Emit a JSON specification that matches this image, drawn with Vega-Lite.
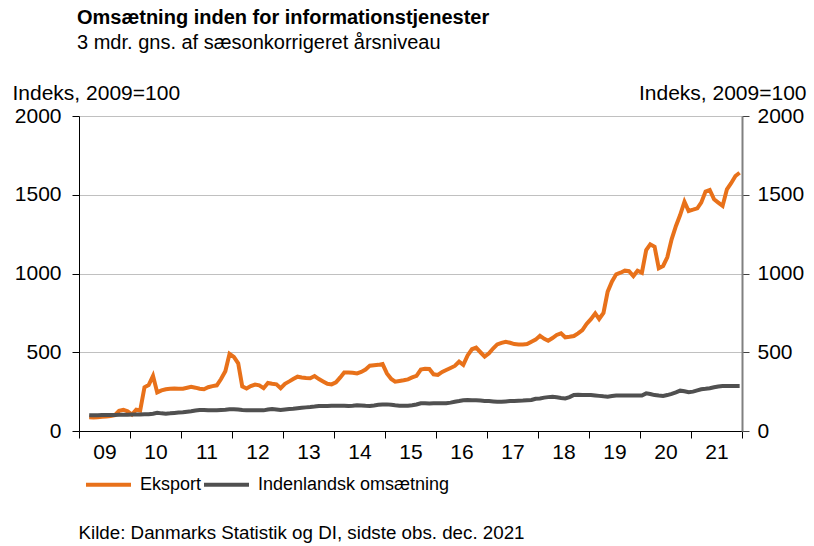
{
  "$schema": "https://vega.github.io/schema/vega-lite/v6.json",
  "width": 663,
  "height": 315,
  "autosize": "none",
  "padding": {"left": 79, "top": 116, "right": 72, "bottom": 115},
  "background": "white",
  "config": {
    "font": "Liberation Sans",
    "view": {"stroke": null},
    "axis": {"labelFont": "Liberation Sans", "titleFont": "Liberation Sans", "labelColor": "black", "titleColor": "black"}
  },
  "title": {
    "text": "Omsætning inden for informationstjenester",
    "subtitle": "3 mdr. gns. af sæsonkorrigeret årsniveau",
    "anchor": "start",
    "frame": "group",
    "font": "Liberation Sans",
    "fontSize": 20,
    "fontWeight": "bold",
    "color": "black",
    "subtitleFont": "Liberation Sans",
    "subtitleFontSize": 20,
    "subtitleColor": "black",
    "subtitlePadding": 5,
    "dx": -2,
    "offset": 29
  },
  "data": {
    "values": [
      {"d":"2009-03-15","Eksport":87,"Indenlandsk omsætning":100},
      {"d":"2009-04-15","Eksport":86,"Indenlandsk omsætning":100},
      {"d":"2009-05-15","Eksport":88,"Indenlandsk omsætning":100},
      {"d":"2009-06-15","Eksport":90,"Indenlandsk omsætning":101},
      {"d":"2009-07-15","Eksport":92,"Indenlandsk omsætning":101},
      {"d":"2009-08-15","Eksport":95,"Indenlandsk omsætning":102},
      {"d":"2009-09-15","Eksport":100,"Indenlandsk omsætning":102},
      {"d":"2009-10-15","Eksport":128,"Indenlandsk omsætning":103},
      {"d":"2009-11-15","Eksport":135,"Indenlandsk omsætning":103},
      {"d":"2009-12-15","Eksport":125,"Indenlandsk omsætning":103},
      {"d":"2010-01-15","Eksport":104,"Indenlandsk omsætning":104},
      {"d":"2010-02-15","Eksport":135,"Indenlandsk omsætning":104},
      {"d":"2010-03-15","Eksport":130,"Indenlandsk omsætning":105},
      {"d":"2010-04-15","Eksport":278,"Indenlandsk omsætning":106},
      {"d":"2010-05-15","Eksport":292,"Indenlandsk omsætning":106},
      {"d":"2010-06-15","Eksport":350,"Indenlandsk omsætning":110},
      {"d":"2010-07-15","Eksport":245,"Indenlandsk omsætning":116},
      {"d":"2010-08-15","Eksport":258,"Indenlandsk omsætning":112},
      {"d":"2010-09-15","Eksport":265,"Indenlandsk omsætning":110},
      {"d":"2010-10-15","Eksport":268,"Indenlandsk omsætning":112},
      {"d":"2010-11-15","Eksport":270,"Indenlandsk omsætning":115},
      {"d":"2010-12-15","Eksport":268,"Indenlandsk omsætning":117},
      {"d":"2011-01-15","Eksport":268,"Indenlandsk omsætning":119},
      {"d":"2011-02-15","Eksport":275,"Indenlandsk omsætning":122},
      {"d":"2011-03-15","Eksport":280,"Indenlandsk omsætning":125},
      {"d":"2011-04-15","Eksport":275,"Indenlandsk omsætning":130},
      {"d":"2011-05-15","Eksport":268,"Indenlandsk omsætning":133},
      {"d":"2011-06-15","Eksport":265,"Indenlandsk omsætning":133},
      {"d":"2011-07-15","Eksport":278,"Indenlandsk omsætning":132},
      {"d":"2011-08-15","Eksport":285,"Indenlandsk omsætning":131},
      {"d":"2011-09-15","Eksport":290,"Indenlandsk omsætning":131},
      {"d":"2011-10-15","Eksport":330,"Indenlandsk omsætning":133},
      {"d":"2011-11-15","Eksport":380,"Indenlandsk omsætning":135},
      {"d":"2011-12-15","Eksport":490,"Indenlandsk omsætning":138},
      {"d":"2012-01-15","Eksport":470,"Indenlandsk omsætning":138},
      {"d":"2012-02-15","Eksport":430,"Indenlandsk omsætning":136},
      {"d":"2012-03-15","Eksport":283,"Indenlandsk omsætning":133},
      {"d":"2012-04-15","Eksport":270,"Indenlandsk omsætning":132},
      {"d":"2012-05-15","Eksport":285,"Indenlandsk omsætning":132},
      {"d":"2012-06-15","Eksport":295,"Indenlandsk omsætning":131},
      {"d":"2012-07-15","Eksport":290,"Indenlandsk omsætning":131},
      {"d":"2012-08-15","Eksport":272,"Indenlandsk omsætning":131},
      {"d":"2012-09-15","Eksport":305,"Indenlandsk omsætning":136},
      {"d":"2012-10-15","Eksport":300,"Indenlandsk omsætning":140},
      {"d":"2012-11-15","Eksport":296,"Indenlandsk omsætning":137},
      {"d":"2012-12-15","Eksport":272,"Indenlandsk omsætning":133},
      {"d":"2013-01-15","Eksport":300,"Indenlandsk omsætning":137},
      {"d":"2013-02-15","Eksport":315,"Indenlandsk omsætning":140},
      {"d":"2013-03-15","Eksport":330,"Indenlandsk omsætning":142},
      {"d":"2013-04-15","Eksport":345,"Indenlandsk omsætning":145},
      {"d":"2013-05-15","Eksport":340,"Indenlandsk omsætning":148},
      {"d":"2013-06-15","Eksport":337,"Indenlandsk omsætning":150},
      {"d":"2013-07-15","Eksport":335,"Indenlandsk omsætning":152},
      {"d":"2013-08-15","Eksport":349,"Indenlandsk omsætning":155},
      {"d":"2013-09-15","Eksport":330,"Indenlandsk omsætning":159},
      {"d":"2013-10-15","Eksport":315,"Indenlandsk omsætning":158},
      {"d":"2013-11-15","Eksport":300,"Indenlandsk omsætning":158},
      {"d":"2013-12-15","Eksport":296,"Indenlandsk omsætning":160},
      {"d":"2014-01-15","Eksport":309,"Indenlandsk omsætning":161},
      {"d":"2014-02-15","Eksport":340,"Indenlandsk omsætning":160},
      {"d":"2014-03-15","Eksport":372,"Indenlandsk omsætning":160},
      {"d":"2014-04-15","Eksport":372,"Indenlandsk omsætning":158},
      {"d":"2014-05-15","Eksport":370,"Indenlandsk omsætning":160},
      {"d":"2014-06-15","Eksport":366,"Indenlandsk omsætning":163},
      {"d":"2014-07-15","Eksport":375,"Indenlandsk omsætning":162},
      {"d":"2014-08-15","Eksport":390,"Indenlandsk omsætning":160},
      {"d":"2014-09-15","Eksport":415,"Indenlandsk omsætning":159},
      {"d":"2014-10-15","Eksport":418,"Indenlandsk omsætning":162},
      {"d":"2014-11-15","Eksport":420,"Indenlandsk omsætning":166},
      {"d":"2014-12-15","Eksport":425,"Indenlandsk omsætning":168},
      {"d":"2015-01-15","Eksport":366,"Indenlandsk omsætning":169},
      {"d":"2015-02-15","Eksport":330,"Indenlandsk omsætning":166},
      {"d":"2015-03-15","Eksport":313,"Indenlandsk omsætning":163},
      {"d":"2015-04-15","Eksport":318,"Indenlandsk omsætning":161},
      {"d":"2015-05-15","Eksport":322,"Indenlandsk omsætning":161},
      {"d":"2015-06-15","Eksport":328,"Indenlandsk omsætning":161},
      {"d":"2015-07-15","Eksport":340,"Indenlandsk omsætning":163},
      {"d":"2015-08-15","Eksport":350,"Indenlandsk omsætning":168},
      {"d":"2015-09-15","Eksport":390,"Indenlandsk omsætning":176},
      {"d":"2015-10-15","Eksport":395,"Indenlandsk omsætning":176},
      {"d":"2015-11-15","Eksport":394,"Indenlandsk omsætning":175},
      {"d":"2015-12-15","Eksport":360,"Indenlandsk omsætning":176},
      {"d":"2016-01-15","Eksport":356,"Indenlandsk omsætning":176},
      {"d":"2016-02-15","Eksport":375,"Indenlandsk omsætning":176},
      {"d":"2016-03-15","Eksport":387,"Indenlandsk omsætning":176},
      {"d":"2016-04-15","Eksport":400,"Indenlandsk omsætning":180},
      {"d":"2016-05-15","Eksport":413,"Indenlandsk omsætning":186},
      {"d":"2016-06-15","Eksport":440,"Indenlandsk omsætning":190},
      {"d":"2016-07-15","Eksport":420,"Indenlandsk omsætning":195},
      {"d":"2016-08-15","Eksport":480,"Indenlandsk omsætning":197},
      {"d":"2016-09-15","Eksport":519,"Indenlandsk omsætning":196},
      {"d":"2016-10-15","Eksport":529,"Indenlandsk omsætning":195},
      {"d":"2016-11-15","Eksport":500,"Indenlandsk omsætning":193},
      {"d":"2016-12-15","Eksport":472,"Indenlandsk omsætning":191},
      {"d":"2017-01-15","Eksport":493,"Indenlandsk omsætning":190},
      {"d":"2017-02-15","Eksport":525,"Indenlandsk omsætning":188},
      {"d":"2017-03-15","Eksport":550,"Indenlandsk omsætning":186},
      {"d":"2017-04-15","Eksport":560,"Indenlandsk omsætning":186},
      {"d":"2017-05-15","Eksport":567,"Indenlandsk omsætning":188},
      {"d":"2017-06-15","Eksport":560,"Indenlandsk omsætning":190},
      {"d":"2017-07-15","Eksport":552,"Indenlandsk omsætning":191},
      {"d":"2017-08-15","Eksport":550,"Indenlandsk omsætning":192},
      {"d":"2017-09-15","Eksport":550,"Indenlandsk omsætning":193},
      {"d":"2017-10-15","Eksport":552,"Indenlandsk omsætning":195},
      {"d":"2017-11-15","Eksport":567,"Indenlandsk omsætning":197},
      {"d":"2017-12-15","Eksport":580,"Indenlandsk omsætning":205},
      {"d":"2018-01-15","Eksport":605,"Indenlandsk omsætning":207},
      {"d":"2018-02-15","Eksport":585,"Indenlandsk omsætning":212},
      {"d":"2018-03-15","Eksport":573,"Indenlandsk omsætning":215},
      {"d":"2018-04-15","Eksport":590,"Indenlandsk omsætning":218},
      {"d":"2018-05-15","Eksport":610,"Indenlandsk omsætning":214},
      {"d":"2018-06-15","Eksport":620,"Indenlandsk omsætning":210},
      {"d":"2018-07-15","Eksport":595,"Indenlandsk omsætning":207},
      {"d":"2018-08-15","Eksport":598,"Indenlandsk omsætning":215},
      {"d":"2018-09-15","Eksport":603,"Indenlandsk omsætning":229},
      {"d":"2018-10-15","Eksport":620,"Indenlandsk omsætning":230},
      {"d":"2018-11-15","Eksport":641,"Indenlandsk omsætning":229},
      {"d":"2018-12-15","Eksport":680,"Indenlandsk omsætning":229},
      {"d":"2019-01-15","Eksport":710,"Indenlandsk omsætning":229},
      {"d":"2019-02-15","Eksport":747,"Indenlandsk omsætning":226},
      {"d":"2019-03-15","Eksport":711,"Indenlandsk omsætning":223},
      {"d":"2019-04-15","Eksport":750,"Indenlandsk omsætning":220},
      {"d":"2019-05-15","Eksport":885,"Indenlandsk omsætning":218},
      {"d":"2019-06-15","Eksport":950,"Indenlandsk omsætning":222},
      {"d":"2019-07-15","Eksport":995,"Indenlandsk omsætning":225},
      {"d":"2019-08-15","Eksport":1005,"Indenlandsk omsætning":225},
      {"d":"2019-09-15","Eksport":1018,"Indenlandsk omsætning":225},
      {"d":"2019-10-15","Eksport":1015,"Indenlandsk omsætning":225},
      {"d":"2019-11-15","Eksport":984,"Indenlandsk omsætning":225},
      {"d":"2019-12-15","Eksport":1018,"Indenlandsk omsætning":225},
      {"d":"2020-01-15","Eksport":1005,"Indenlandsk omsætning":225},
      {"d":"2020-02-15","Eksport":1149,"Indenlandsk omsætning":239},
      {"d":"2020-03-15","Eksport":1185,"Indenlandsk omsætning":235},
      {"d":"2020-04-15","Eksport":1170,"Indenlandsk omsætning":228},
      {"d":"2020-05-15","Eksport":1033,"Indenlandsk omsætning":225},
      {"d":"2020-06-15","Eksport":1048,"Indenlandsk omsætning":223},
      {"d":"2020-07-15","Eksport":1103,"Indenlandsk omsætning":228},
      {"d":"2020-08-15","Eksport":1217,"Indenlandsk omsætning":236},
      {"d":"2020-09-15","Eksport":1302,"Indenlandsk omsætning":245},
      {"d":"2020-10-15","Eksport":1371,"Indenlandsk omsætning":256},
      {"d":"2020-11-15","Eksport":1456,"Indenlandsk omsætning":252},
      {"d":"2020-12-15","Eksport":1397,"Indenlandsk omsætning":246},
      {"d":"2021-01-15","Eksport":1405,"Indenlandsk omsætning":250},
      {"d":"2021-02-15","Eksport":1414,"Indenlandsk omsætning":258},
      {"d":"2021-03-15","Eksport":1450,"Indenlandsk omsætning":265},
      {"d":"2021-04-15","Eksport":1520,"Indenlandsk omsætning":268},
      {"d":"2021-05-15","Eksport":1530,"Indenlandsk omsætning":272},
      {"d":"2021-06-15","Eksport":1471,"Indenlandsk omsætning":278},
      {"d":"2021-07-15","Eksport":1450,"Indenlandsk omsætning":283},
      {"d":"2021-08-15","Eksport":1429,"Indenlandsk omsætning":286},
      {"d":"2021-09-15","Eksport":1535,"Indenlandsk omsætning":286},
      {"d":"2021-10-15","Eksport":1573,"Indenlandsk omsætning":285},
      {"d":"2021-11-15","Eksport":1619,"Indenlandsk omsætning":285},
      {"d":"2021-12-15","Eksport":1640,"Indenlandsk omsætning":285}
    ]
  },
  "transform": [
    {"fold": ["Eksport", "Indenlandsk omsætning"], "as": ["series", "value"]}
  ],
  "encoding": {
    "x": {
      "field": "d",
      "type": "temporal",
      "scale": {
        "type": "utc",
        "domain": [
          {"year": 2009, "month": 1, "date": 1, "utc": true},
          {"year": 2022, "month": 1, "date": 1, "utc": true}
        ]
      },
      "axis": {
        "values": [
          {"year": 2009, "month": 1, "date": 1, "utc": true},
          {"year": 2010, "month": 1, "date": 1, "utc": true},
          {"year": 2011, "month": 1, "date": 1, "utc": true},
          {"year": 2012, "month": 1, "date": 1, "utc": true},
          {"year": 2013, "month": 1, "date": 1, "utc": true},
          {"year": 2014, "month": 1, "date": 1, "utc": true},
          {"year": 2015, "month": 1, "date": 1, "utc": true},
          {"year": 2016, "month": 1, "date": 1, "utc": true},
          {"year": 2017, "month": 1, "date": 1, "utc": true},
          {"year": 2018, "month": 1, "date": 1, "utc": true},
          {"year": 2019, "month": 1, "date": 1, "utc": true},
          {"year": 2020, "month": 1, "date": 1, "utc": true},
          {"year": 2021, "month": 1, "date": 1, "utc": true},
          {"year": 2022, "month": 1, "date": 1, "utc": true}
        ],
        "labelExpr": "utcyear(datum.value) >= 2022 ? '' : utcFormat(datum.value, '%y')",
        "labelOffset": 25.5,
        "labelAlign": "center",
        "labelFontSize": 21,
        "labelPadding": 3,
        "labelBound": false,
        "labelOverlap": false,
        "labelFlush": false,
        "tickSize": 7,
        "tickColor": "black",
        "domainColor": "black",
        "grid": false,
        "title": "Kilde: Danmarks Statistik og DI, sidste obs. dec. 2021",
        "titleFontSize": 18.75,
        "titleFontWeight": "normal",
        "titleAlign": "left",
        "titleBaseline": "alphabetic",
        "titleX": -1,
        "titleY": 107
      }
    }
  },
  "layer": [
    {
      "mark": {"type": "line", "strokeWidth": 4, "interpolate": "linear"},
      "encoding": {
        "y": {
          "field": "value",
          "type": "quantitative",
          "scale": {"domain": [0, 2000], "nice": false},
          "axis": {
            "orient": "left",
            "values": [0, 500, 1000, 1500, 2000],
            "format": "d",
            "labelFontSize": 21,
            "labelPadding": 11,
            "tickSize": 7,
            "tickColor": "black",
            "domainColor": "black",
            "grid": true,
            "gridColor": "#C0C0C0",
            "title": "Indeks, 2009=100",
            "titleFontSize": 21,
            "titleFontWeight": "normal",
            "titleAngle": 0,
            "titleAlign": "left",
            "titleBaseline": "alphabetic",
            "titleX": -67,
            "titleY": -17
          }
        },
        "color": {
          "field": "series",
          "type": "nominal",
          "scale": {"domain": ["Eksport", "Indenlandsk omsætning"], "range": ["#E8711A", "#505050"]},
          "legend": {
            "title": null,
            "orient": "none",
            "direction": "horizontal",
            "legendX": 5,
            "legendY": 344,
            "padding": 0,
            "symbolType": "stroke",
            "symbolSize": 2025,
            "symbolStrokeWidth": 4,
            "labelFontSize": 18,
            "labelFont": "Liberation Sans",
            "labelColor": "black",
            "labelOffset": 7,
            "columnPadding": -7,
            "labelLimit": 400
          }
        }
      }
    },
    {
      "mark": {"type": "line", "strokeOpacity": 0},
      "encoding": {
        "y": {
          "field": "value",
          "type": "quantitative",
          "axis": {
            "orient": "right",
            "values": [0, 500, 1000, 1500, 2000],
            "format": "d",
            "labelFontSize": 21,
            "labelPadding": 8,
            "tickSize": 7,
            "tickColor": "#404040",
            "domainColor": "#808080",
            "domainWidth": 2,
            "grid": false,
            "title": "Indeks, 2009=100",
            "titleFontSize": 21,
            "titleFontWeight": "normal",
            "titleAngle": 0,
            "titleAlign": "right",
            "titleBaseline": "alphabetic",
            "titleX": 64,
            "titleY": -17
          }
        },
        "detail": {"field": "series", "type": "nominal"}
      }
    }
  ]
}
